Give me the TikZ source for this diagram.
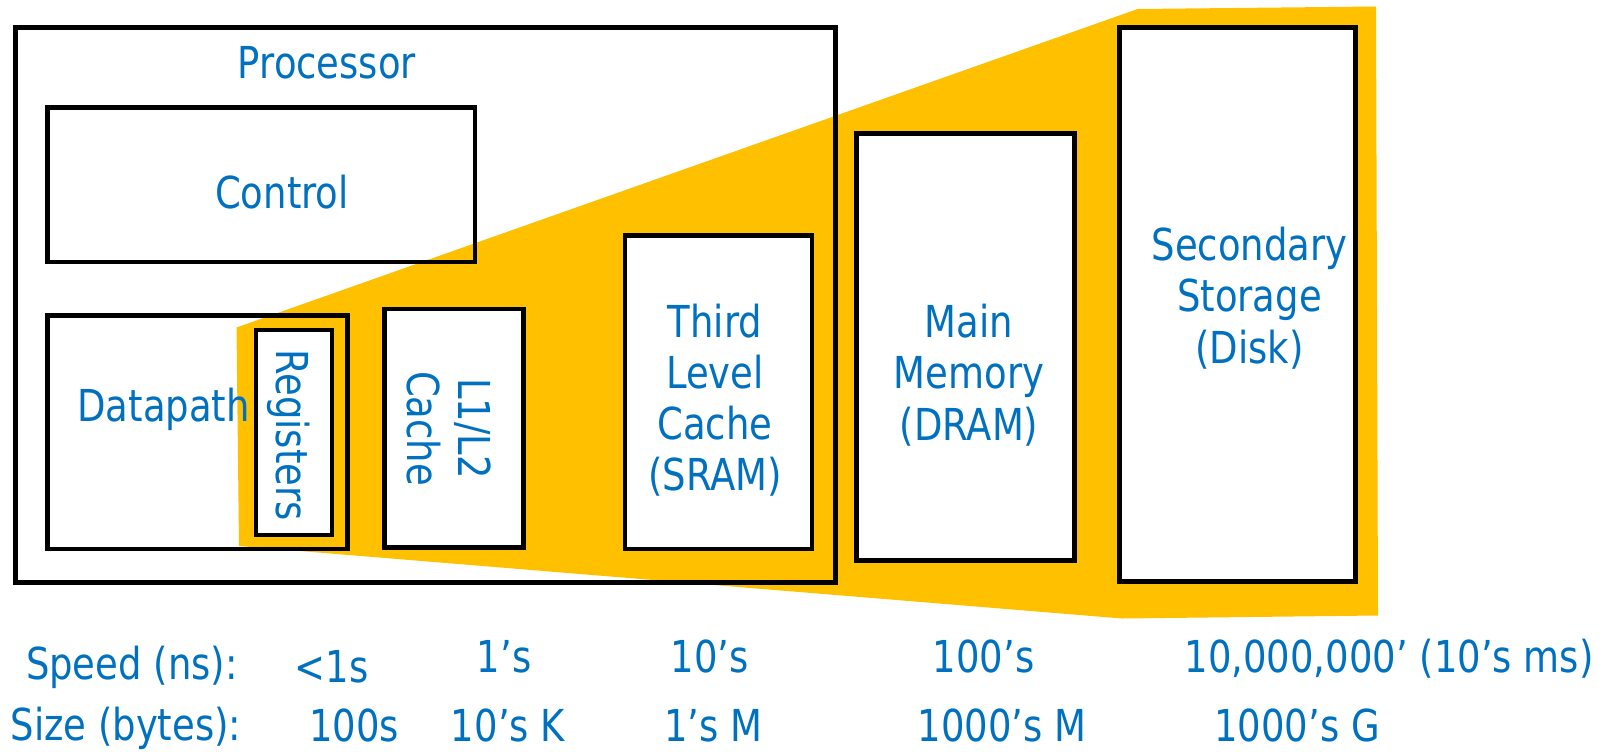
\documentclass[tikz,border=0pt]{standalone}
\usepackage{fontspec}
\setmainfont{DejaVu Sans}[FakeStretch=0.84]
\usetikzlibrary{fit}
\definecolor{gold}{HTML}{FFC000}
\definecolor{tblue}{HTML}{0070C0}
\begin{document}
\begin{tikzpicture}[x=0.5pt,y=-0.5pt,
  frame/.style={draw=black, line width=2.4pt, inner sep=0pt, outer sep=0pt},
  wbox/.style={frame, fill=white},
  lbl/.style={text=tblue, font=\fontsize{22}{25.6}\selectfont, align=center, inner sep=0pt, outer sep=0pt}]
\useasboundingbox (0,0) rectangle (1608,751);
% yellow zoom funnel
\fill[gold] (236.5,327.5) -- (1137.6,9) -- (1376,6.5) -- (1378,615.5) -- (1122,618.5) -- (239,546) -- cycle;
% processor
\node[frame, fit={(15.3,27.6) (835.8,582.5)}] (proc) {};
\node[frame, fit={(47.7,107.5) (475,262)}] (ctrl) {};
\node[frame, fit={(47.7,315.3) (347.3,548.9)}] (dp) {};
\node[wbox, fit={(256,330) (332,535)}] (reg) {};
\node[wbox, fit={(384.5,309) (523.8,547.5)}] (l12) {};
\node[wbox, fit={(625,235.5) (812,549)}] (l3) {};
\node[wbox, fit={(856.5,133.4) (1074.7,560.5)}] (mem) {};
\node[wbox, fit={(1119.7,27.7) (1355.5,581.5)}] (disk) {};
% labels
\node[lbl, anchor=base] (tproc) at (327,78) {Processor};
\node[lbl, anchor=base] (tctrl) at (282,208) {Control};
\node[lbl, anchor=base] (tdp) at (163.6,421.7) {Datapath};
\node[lbl, anchor=base, rotate=-90] (treg) at (276.7,435) {Registers};
\node[lbl, rotate=-90] (tl12) at (449,428.5) {L1/L2\\Cache};
\node[lbl] (tl3) at (715,400) {Third\\Level\\Cache\\(SRAM)};
\node[lbl] (tmem) at (969,375) {Main\\Memory\\(DRAM)};
\node[lbl] (tdisk) at (1249.5,298) {Secondary\\Storage\\(Disk)};
% speed row
\node[lbl, anchor=base] (sp0) at (131.8,679) {Speed (ns):};
\node[lbl, anchor=base] (sp1) at (331.7,682.3) {<1s};
\node[lbl, anchor=base] (sp2) at (504,672.3) {1’s};
\node[lbl, anchor=base] (sp3) at (709.7,672.3) {10’s};
\node[lbl, anchor=base] (sp4) at (983.6,672.3) {100’s};
\node[lbl, anchor=base] (sp5) at (1389.2,672.3) {10,000,000’ (10’s ms)};
% size row
\node[lbl, anchor=base] (sz0) at (126,740) {Size (bytes):};
\node[lbl, anchor=base] (sz1) at (353.9,741) {100s};
\node[lbl, anchor=base] (sz2) at (508,741) {10’s K};
\node[lbl, anchor=base] (sz3) at (713.3,741) {1’s M};
\node[lbl, anchor=base] (sz4) at (1002,741) {1000’s M};
\node[lbl, anchor=base] (sz5) at (1297,741) {1000’s G};
\end{tikzpicture}
\end{document}
